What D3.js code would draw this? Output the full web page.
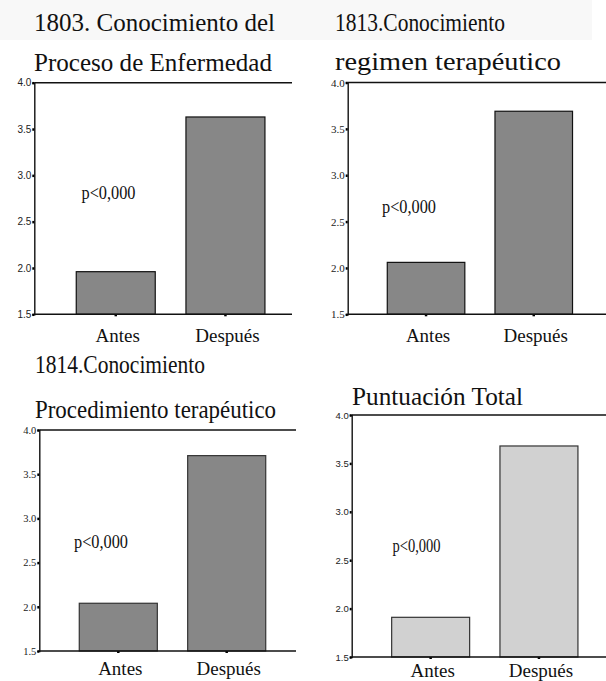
<!DOCTYPE html>
<html>
<head>
<meta charset="utf-8">
<script src="https://cdn.jsdelivr.net/npm/d3@7"></script>
<style>
  body { margin: 0; background: #fff; }
  svg { display: block; }
</style>
</head>
<body>
<div id="chart"></div>
<script>
// categories and values
var categories = ["Antes", "Después"];
var valores1803 = [1.96, 3.63];
var valores1813 = [2.06, 3.69];
var valores1814 = [2.04, 3.71];
var valoresTotal = [1.91, 3.68];
var yTicks = [1.5, 2.0, 2.5, 3.0, 3.5, 4.0];
var titulos = [
  ["1803. Conocimiento del", "Proceso de Enfermedad"],
  ["1813.Conocimiento", "regimen terapéutico"],
  ["1814.Conocimiento", "Procedimiento terapéutico"],
  ["Puntuación Total"]
];
var pLabel = "p<0,000";

var width = 606, height = 681;
var serif = "'Liberation Serif', 'Times New Roman', serif";
var sans = "'Liberation Sans', Arial, sans-serif";

var svg = d3.select("#chart").append("svg")
  .attr("width", width)
  .attr("height", height);

// faint grey band behind the first title row
svg.append("rect")
  .attr("x", 0).attr("y", 0)
  .attr("width", 592).attr("height", 40)
  .attr("fill", "#f8f8f8");

// layout for each small chart
var panels = [
  { data: valores1803, title: titulos[0], titleX: 34, titleY: [31, 71], titleLen: [241, 238],
    axisX: 34.3, lineEnd: 292, top: 82.7, bottom: 314.3, band: [60.9, 280.3],
    fill: "#878787", stroke: "#111", tickFont: sans, tickSize: 10,
    pX: 81.5, pY: 199, pLen: 54, labY: 342 },
  { data: valores1813, title: titulos[1], titleX: 335, titleY: [31, 70], titleLen: [170, 226],
    axisX: 347.7, lineEnd: 606, top: 82.5, bottom: 314.3, band: [372.2, 587.6],
    fill: "#878787", stroke: "#111", tickFont: serif, tickSize: 11,
    pX: 382, pY: 213, pLen: 54, labY: 342 },
  { data: valores1814, title: titulos[2], titleX: 35, titleY: [373, 418], titleLen: [170, 241],
    axisX: 39.3, lineEnd: 296, top: 430, bottom: 651, band: [64.1, 280.9],
    fill: "#878787", stroke: "#333", tickFont: serif, tickSize: 10.5,
    pX: 74, pY: 547.5, pLen: 54, labY: 675 },
  { data: valoresTotal, title: titulos[3], titleX: 352, titleY: [405], titleLen: [171],
    axisX: 351.7, lineEnd: 606, top: 415, bottom: 657, band: [376.5, 593.1],
    fill: "#d1d1d1", stroke: "#333", tickFont: sans, tickSize: 9.5,
    pX: 392.5, pY: 551.5, pLen: 48, labY: 677 }
];

panels.forEach(function(p) {
  var g = svg.append("g");

  var x = d3.scaleBand()
    .domain(categories)
    .range(p.band)
    .paddingInner(0.28)
    .paddingOuter(0.14);

  var y = d3.scaleLinear()
    .domain([1.5, 4.0])
    .range([p.bottom, p.top]);

  // title lines
  g.selectAll("text.title")
    .data(p.title)
    .enter()
    .append("text")
    .attr("class", "title")
    .attr("x", p.titleX)
    .attr("y", function(d, i) { return p.titleY[i]; })
    .attr("textLength", function(d, i) { return p.titleLen[i]; })
    .attr("lengthAdjust", "spacingAndGlyphs")
    .style("font-family", serif)
    .style("font-size", "26px")
    .attr("fill", "#111")
    .text(function(d) { return d; });

  // bars
  g.selectAll("rect.bar")
    .data(p.data)
    .enter()
    .append("rect")
    .attr("class", "bar")
    .attr("x", function(d, i) { return x(categories[i]); })
    .attr("y", function(d) { return y(d); })
    .attr("width", x.bandwidth())
    .attr("height", function(d) { return y(1.5) - y(d); })
    .attr("fill", p.fill)
    .attr("stroke", p.stroke)
    .attr("stroke-width", 1.2);

  // y axis
  var yAxis = d3.axisLeft(y)
    .tickValues(yTicks)
    .tickFormat(d3.format(".1f"))
    .tickSize(2)
    .tickPadding(1);

  var ya = g.append("g")
    .attr("transform", "translate(" + p.axisX + ",0)")
    .call(yAxis);
  ya.select(".domain").attr("stroke", "#111").attr("stroke-width", 1.4);
  ya.selectAll(".tick line").attr("stroke", "#000").attr("stroke-width", 2.5);
  ya.selectAll(".tick text")
    .style("font-family", p.tickFont)
    .style("font-size", p.tickSize + "px")
    .attr("fill", "#222");

  // x axis
  var xAxis = d3.axisBottom(x)
    .tickSize(2)
    .tickSizeOuter(0);

  var xa = g.append("g")
    .attr("transform", "translate(0," + p.bottom + ")")
    .call(xAxis);
  xa.select(".domain").remove();
  xa.selectAll(".tick line").attr("stroke", "#000").attr("stroke-width", 2.5);
  xa.selectAll(".tick text").remove();

  // frame lines: top and bottom
  g.append("line")
    .attr("x1", p.axisX).attr("x2", p.lineEnd)
    .attr("y1", p.bottom).attr("y2", p.bottom)
    .attr("stroke", "#111").attr("stroke-width", 1.4);
  g.append("line")
    .attr("x1", p.axisX).attr("x2", p.lineEnd)
    .attr("y1", p.top).attr("y2", p.top)
    .attr("stroke", "#111").attr("stroke-width", 1.6);

  // category labels
  g.selectAll("text.cat")
    .data(categories)
    .enter()
    .append("text")
    .attr("class", "cat")
    .attr("x", function(d) { return x(d) + x.bandwidth() / 2 + 2; })
    .attr("y", p.labY)
    .attr("text-anchor", "middle")
    .style("font-family", serif)
    .style("font-size", "19px")
    .attr("fill", "#111")
    .text(function(d) { return d; });

  // significance note
  g.append("text")
    .attr("x", p.pX)
    .attr("y", p.pY)
    .attr("textLength", p.pLen)
    .attr("lengthAdjust", "spacingAndGlyphs")
    .style("font-family", serif)
    .style("font-size", "19px")
    .attr("fill", "#111")
    .text(pLabel);
});
</script>
</body>
</html>
